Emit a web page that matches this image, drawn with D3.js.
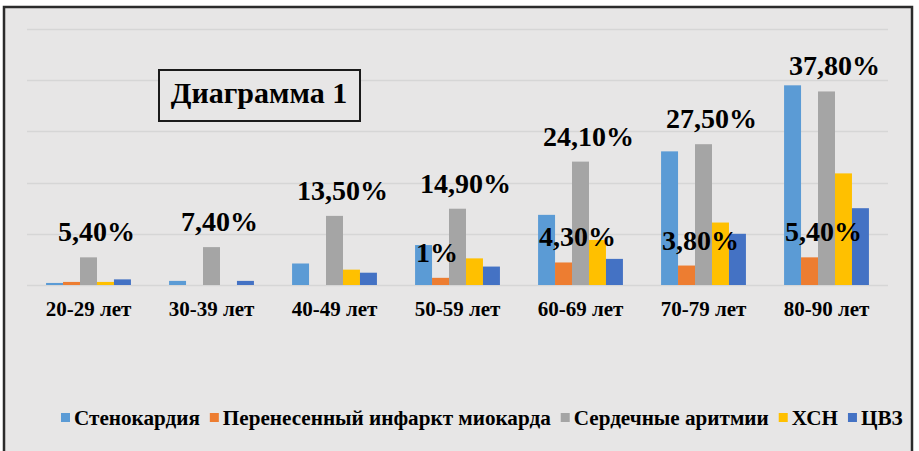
<!DOCTYPE html>
<html>
<head>
<meta charset="utf-8">
<script src="https://cdn.jsdelivr.net/npm/d3@7"></script>
<style>
  html, body { margin: 0; padding: 0; background: #fff; }
  svg { display: block; }
</style>
</head>
<body>
<div id="chart"></div>
<script>
// data (percent)
const groups = ['20-29 лет', '30-39 лет', '40-49 лет', '50-59 лет', '60-69 лет', '70-79 лет', '80-90 лет'];
const seriesNames = ['Стенокардия', 'Перенесенный инфаркт миокарда', 'Сердечные аритмии', 'ХСН', 'ЦВЗ'];
const stenocardia = [0.4, 0.8, 4.2, 7.8, 13.7, 26.1, 39.0];
const infarct = [0.6, 0, 0, 1.4, 4.4, 3.8, 5.4];
const arrhythmia = [5.4, 7.4, 13.5, 14.9, 24.1, 27.5, 37.8];
const hsn = [0.6, 0, 3.0, 5.2, 8.8, 12.2, 21.8];
const cvz = [1.1, 0.8, 2.4, 3.6, 5.1, 10.0, 15.0];
const arrhythmiaLabels = ['5,40%', '7,40%', '13,50%', '14,90%', '24,10%', '27,50%', '37,80%'];
const infarctLabels = [null, null, null, '1%', '4,30%', '3,80%', '5,40%'];
const yTicks = [0, 10, 20, 30, 40, 50];

const colors = ['#5b9bd5', '#ed7d31', '#a5a5a5', '#ffc000', '#4472c4'];
const seriesValues = [stenocardia, infarct, arrhythmia, hsn, cvz];

const FONT = '"Liberation Serif", "Times New Roman", serif';
const width = 919, height = 451;
const plot = { left: 27, right: 888, top: 29, bottom: 285 };

const svg = d3.select('#chart').append('svg')
  .attr('width', width)
  .attr('height', height);

function txt(sel, size) {
  return sel
    .style('font-family', FONT)
    .style('font-weight', 'bold')
    .style('font-size', size)
    .attr('fill', '#000');
}

// chart area with frame
svg.append('rect')
  .attr('x', 4).attr('y', 7)
  .attr('width', 908).attr('height', 470)
  .attr('fill', '#e7e6e6')
  .attr('stroke', '#2b2b2b')
  .attr('stroke-width', 2.5);

const x0 = d3.scaleBand()
  .domain(groups)
  .range([plot.left, plot.right])
  .paddingInner(0.31)
  .paddingOuter(0.155);

const x1 = d3.scaleBand()
  .domain(d3.range(seriesNames.length))
  .range([0, x0.bandwidth()]);

const y = d3.scaleLinear()
  .domain([0, 50])
  .range([plot.bottom, plot.top]);

// gridlines
svg.append('g')
  .selectAll('line')
  .data(yTicks)
  .join('line')
  .attr('x1', plot.left)
  .attr('x2', plot.right)
  .attr('y1', d => Math.round(y(d)) + 0.5)
  .attr('y2', d => Math.round(y(d)) + 0.5)
  .attr('stroke', '#d6d6d6')
  .attr('stroke-width', 1.5);

// bars
const bars = [];
groups.forEach((g, gi) => {
  seriesValues.forEach((vals, si) => {
    bars.push({ group: g, series: si, value: vals[gi] });
  });
});

svg.append('g')
  .selectAll('rect')
  .data(bars.filter(d => d.value > 0))
  .join('rect')
  .attr('x', d => x0(d.group) + x1(d.series))
  .attr('y', d => y(d.value))
  .attr('width', x1.bandwidth())
  .attr('height', d => y(0) - y(d.value))
  .attr('fill', d => colors[d.series]);

// category axis
const xAxis = svg.append('g')
  .attr('transform', `translate(0,${plot.bottom})`)
  .call(d3.axisBottom(x0).tickSize(0).tickPadding(16));
xAxis.select('.domain').remove();
txt(xAxis.selectAll('text'), '21px');

// data labels
const labelFont = '28px';
txt(svg.append('g')
  .selectAll('text')
  .data(groups)
  .join('text')
  .attr('x', d => x0(d) + x0.bandwidth() / 2 + 8)
  .attr('y', (d, i) => y(arrhythmia[i]) - 16)
  .attr('text-anchor', 'middle')
  .text((d, i) => arrhythmiaLabels[i]), labelFont);

txt(svg.append('g')
  .selectAll('text')
  .data(groups.map((g, i) => ({ g, i })).filter(d => infarctLabels[d.i]))
  .join('text')
  .attr('x', d => x0(d.g) + 1)
  .attr('y', d => y(infarct[d.i]) - 16)
  .attr('text-anchor', 'start')
  .text(d => infarctLabels[d.i]), labelFont);

// title box
const title = svg.append('g');
title.append('rect')
  .attr('x', 159).attr('y', 70)
  .attr('width', 201).attr('height', 51)
  .attr('fill', '#e7e6e6')
  .attr('stroke', '#1a1a1a')
  .attr('stroke-width', 2);
txt(title.append('text')
  .attr('x', 259).attr('y', 103)
  .attr('text-anchor', 'middle')
  .text('Диаграмма 1'), '30px');

// legend, laid out left to right and scaled to the width it takes in the picture
const legendLeft = 61, legendRight = 903;
const legend = svg.append('g').attr('transform', `translate(${legendLeft},425)`);
const items = seriesNames.map((name, i) => {
  const item = legend.append('g');
  item.append('rect')
    .attr('x', 0).attr('y', -12)
    .attr('width', 9).attr('height', 9)
    .attr('fill', colors[i]);
  const t = txt(item.append('text').attr('x', 13).attr('y', 0).text(name), '20px');
  return { item, t };
});
const textTotal = d3.sum(items, d => d.t.node().getComputedTextLength());
const fixed = items.length * 13 + (items.length - 1) * 10;
const size = 20 * (legendRight - legendLeft - fixed) / textTotal;
let lx = 0;
items.forEach(d => {
  d.t.style('font-size', size + 'px');
  d.item.attr('transform', `translate(${lx},0)`);
  lx += 13 + d.t.node().getComputedTextLength() + 10;
});
</script>
</body>
</html>
